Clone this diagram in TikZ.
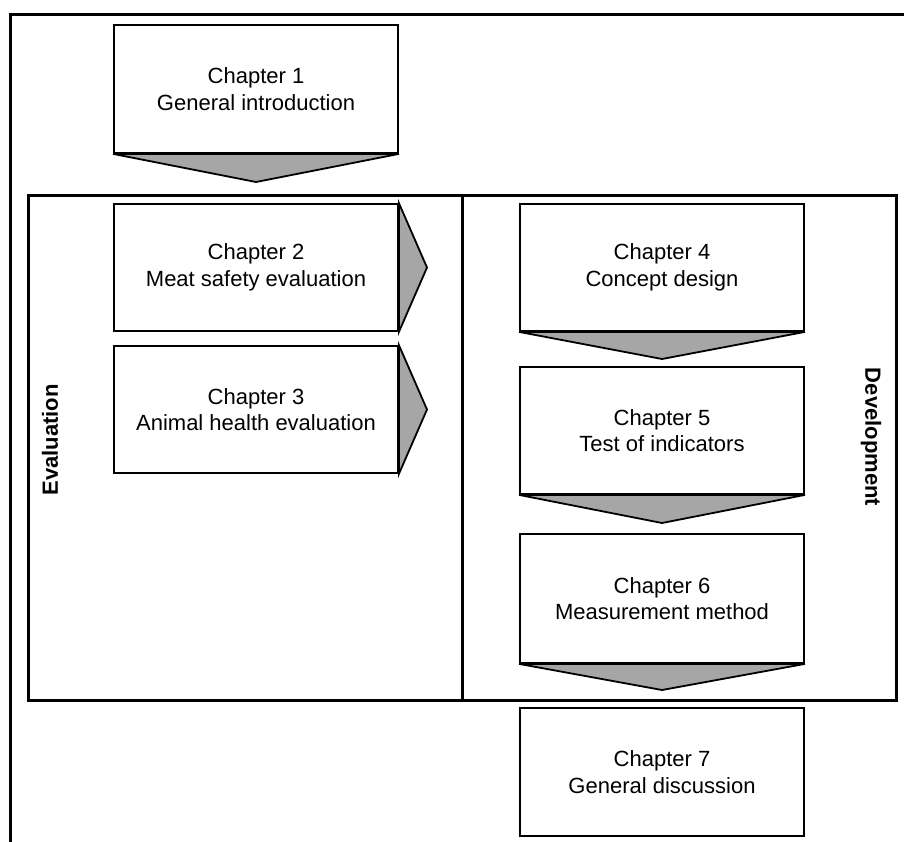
\documentclass[tikz,border=0pt]{standalone}
\usepackage{fontspec}
\setmainfont{Liberation Sans}
\definecolor{chevgray}{RGB}{166,166,166}
\begin{document}
\begin{tikzpicture}[x=1pt,y=-1pt,
  chapbox/.style={draw=black,line width=1.8pt,fill=white,minimum width=284pt,inner sep=0pt,
     align=center,font=\fontsize{22}{26.5}\selectfont},
  chevron/.style={draw=black,line width=1.8pt,fill=chevgray,line join=miter},
  frame/.style={draw=black,line width=3pt},
  sidelabel/.style={font=\fontsize{22}{26}\selectfont\bfseries,inner sep=0pt}]
\useasboundingbox (0,0) rectangle (904,841);
% outer frame (only top and left sides visible)
\draw[frame] (10.8,842) -- (10.8,14) -- (905,14);
% inner frames
\draw[frame] (28.5,195) rectangle (896,700);
\draw[frame] (462.5,195) -- (462.5,700);
% chapter boxes
\node[chapbox,minimum height=128pt] (c1) at (256,89) {Chapter 1\\General introduction};
\node[chapbox,minimum height=127pt] (c2) at (256,267.5) {Chapter 2\\Meat safety evaluation};
\node[chapbox,minimum height=127pt] (c3) at (256,409.5) {Chapter 3\\Animal health evaluation};
\node[chapbox,minimum height=127pt] (c4) at (662,267.5) {Chapter 4\\Concept design};
\node[chapbox,minimum height=127pt] (c5) at (662,430.5) {Chapter 5\\Test of indicators};
\node[chapbox,minimum height=129pt] (c6) at (662,598.5) {Chapter 6\\Measurement method};
\node[chapbox,minimum height=128pt] (c7) at (662,772) {Chapter 7\\General discussion};
% chevron tips
\coordinate (t1) at (256,182);
\coordinate (t2) at (427,267.5);
\coordinate (t3) at (427,409.5);
\coordinate (t4) at (662,359);
\coordinate (t5) at (662,523);
\coordinate (t6) at (662,690);
% chevrons
\draw[chevron] (c1.south west) -- (c1.south east) -- (t1) -- cycle;
\draw[chevron] (c2.north east) -- (t2) -- (c2.south east) -- cycle;
\draw[chevron] (c3.north east) -- (t3) -- (c3.south east) -- cycle;
\draw[chevron] (c4.south west) -- (c4.south east) -- (t4) -- cycle;
\draw[chevron] (c5.south west) -- (c5.south east) -- (t5) -- cycle;
\draw[chevron] (c6.south west) -- (c6.south east) -- (t6) -- cycle;
% side labels
\node[sidelabel,rotate=90] (eval) at (50,440) {Evaluation};
\node[sidelabel,rotate=-90] (dev) at (871,437) {Development};
\end{tikzpicture}
\end{document}
